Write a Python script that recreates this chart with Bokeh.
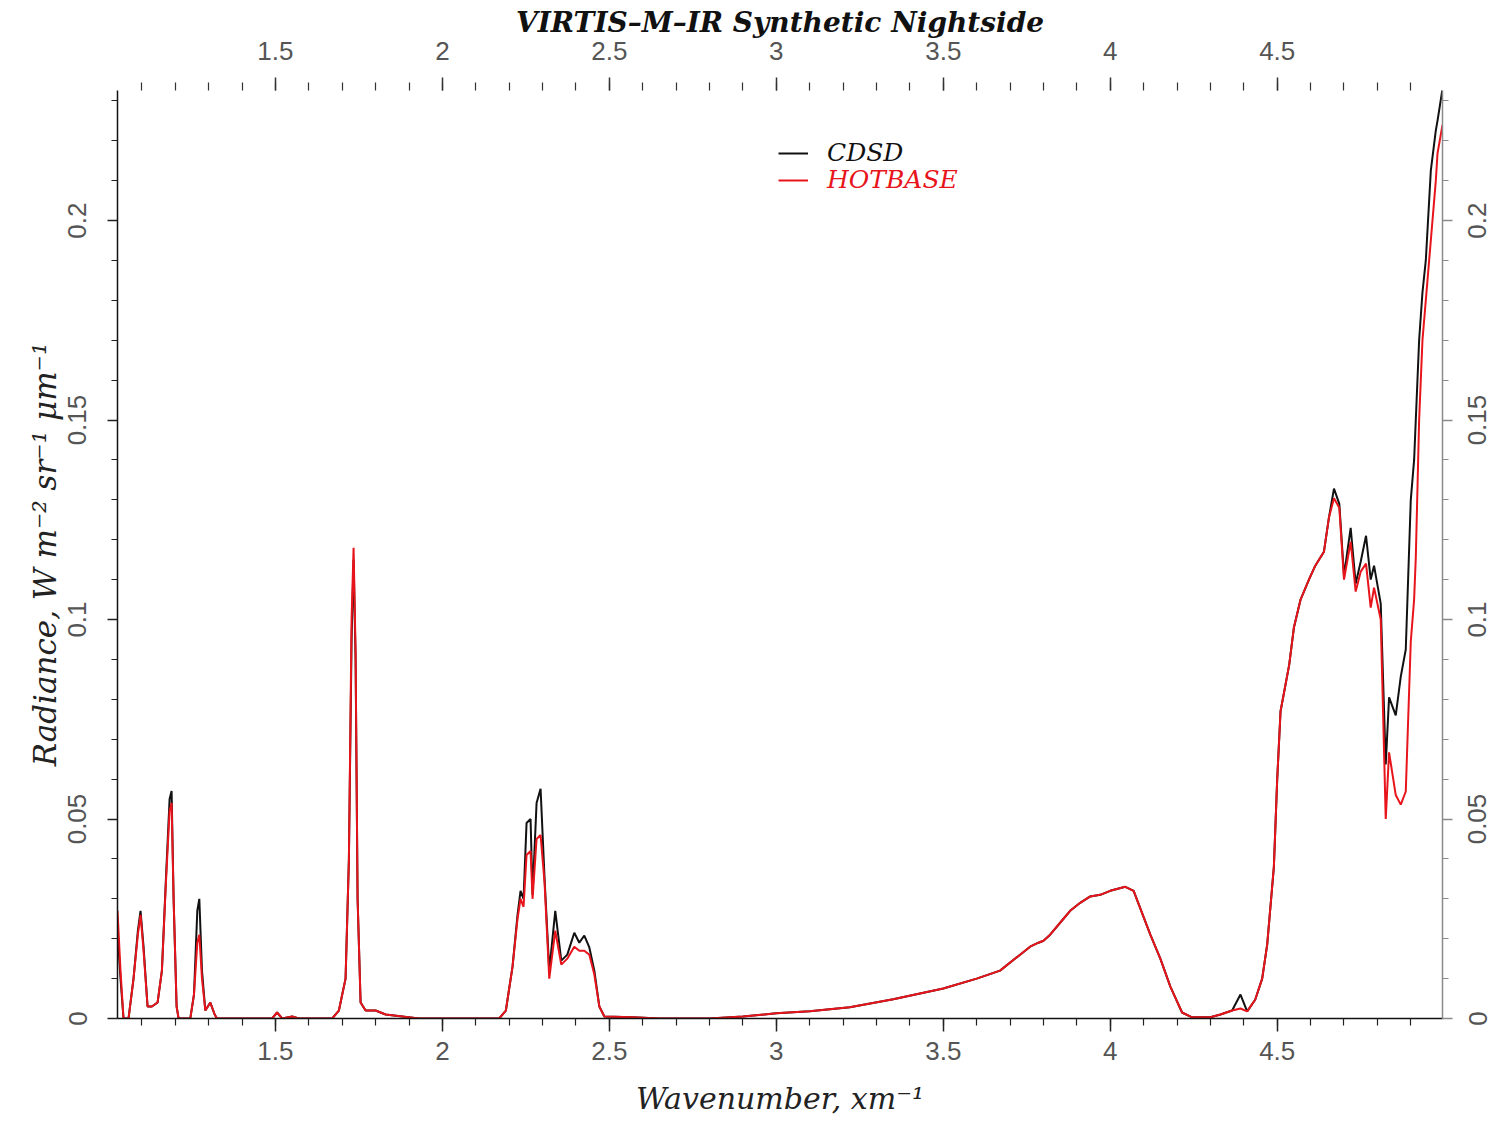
from bokeh.plotting import figure
from bokeh.layouts import row
from bokeh.models import Range1d, LinearAxis, FixedTicker, Legend, LegendItem
from bokeh.embed import file_html
from bokeh.resources import INLINE

# ---------------- data ----------------
wavelength = [1.027, 1.036, 1.045, 1.06, 1.075, 1.088, 1.096, 1.105, 1.117, 1.13,
              1.147, 1.16, 1.172, 1.183, 1.189, 1.195, 1.204, 1.21, 1.245, 1.256,
              1.266, 1.272, 1.28, 1.29, 1.305, 1.318, 1.325, 1.49, 1.505, 1.52,
              1.55, 1.57, 1.67, 1.69, 1.71, 1.72, 1.728, 1.734, 1.74, 1.746,
              1.755, 1.77, 1.8, 1.83, 1.88, 1.93, 2.17, 2.19, 2.21, 2.225,
              2.234, 2.243, 2.252, 2.264, 2.27, 2.282, 2.294, 2.306, 2.32, 2.338,
              2.356, 2.374, 2.395, 2.41, 2.425, 2.44, 2.455, 2.47, 2.485, 2.57,
              2.65, 2.8, 2.9, 3.0, 3.1, 3.22, 3.35, 3.5, 3.6, 3.67,
              3.73, 3.76, 3.785, 3.8, 3.82, 3.86, 3.88, 3.91, 3.94, 3.97,
              4.0, 4.045, 4.07, 4.12, 4.15, 4.18, 4.215, 4.245, 4.3, 4.33,
              4.365, 4.39, 4.41, 4.434, 4.455, 4.47, 4.49, 4.5, 4.51, 4.536,
              4.55, 4.57, 4.595, 4.614, 4.64, 4.655, 4.67, 4.686, 4.70, 4.72,
              4.735, 4.75, 4.766, 4.78, 4.79, 4.81, 4.825, 4.835, 4.855, 4.87,
              4.885, 4.9, 4.91, 4.915, 4.925, 4.935, 4.945, 4.96, 4.975, 4.98,
              4.995]

cdsd = [0.022, 0.010, 0.0, 0.0, 0.010, 0.022, 0.027, 0.018, 0.003, 0.003,
        0.004, 0.012, 0.035, 0.055, 0.057, 0.030, 0.003, 0.0, 0.0, 0.006,
        0.027, 0.030, 0.012, 0.002, 0.004, 0.001, 0.0, 0.0, 0.0015, 0.0,
        0.0005, 0.0, 0.0, 0.002, 0.010, 0.040, 0.095, 0.115, 0.090, 0.030,
        0.004, 0.002, 0.002, 0.001, 0.0005, 0.0, 0.0, 0.002, 0.013, 0.026,
        0.032, 0.030, 0.049, 0.050, 0.031, 0.054, 0.0576, 0.035, 0.012, 0.027,
        0.0145, 0.016, 0.0215, 0.019, 0.0208, 0.0178, 0.012, 0.003, 0.0005, 0.0003,
        0.0, 0.0, 0.0005, 0.0013, 0.0018, 0.0028, 0.0048, 0.0075, 0.0100, 0.0120,
        0.0160, 0.0180, 0.0190, 0.0195, 0.0210, 0.0250, 0.0270, 0.0290, 0.0306, 0.0310,
        0.0320, 0.0330, 0.0320, 0.0210, 0.0150, 0.0080, 0.0015, 0.0003, 0.0003, 0.0010,
        0.0020, 0.0060, 0.0018, 0.0047, 0.0100, 0.0185, 0.0380, 0.0600, 0.0770, 0.0887,
        0.0980, 0.1050, 0.1100, 0.1135, 0.1170, 0.1256, 0.1328, 0.1290, 0.1110, 0.1230,
        0.1090, 0.1145, 0.1210, 0.1100, 0.1135, 0.1040, 0.0637, 0.0805, 0.0760, 0.0857,
        0.0925, 0.1300, 0.1400, 0.1500, 0.1700, 0.1820, 0.1900, 0.2125, 0.2226, 0.2250,
        0.2330]

hotbase = [0.027, 0.012, 0.0, 0.0, 0.010, 0.021, 0.026, 0.017, 0.003, 0.003,
           0.004, 0.012, 0.034, 0.052, 0.054, 0.030, 0.003, 0.0, 0.0, 0.006,
           0.019, 0.021, 0.010, 0.002, 0.004, 0.001, 0.0, 0.0, 0.0015, 0.0,
           0.0005, 0.0, 0.0, 0.002, 0.010, 0.040, 0.100, 0.118, 0.092, 0.030,
           0.004, 0.002, 0.002, 0.001, 0.0005, 0.0, 0.0, 0.002, 0.013, 0.025,
           0.030, 0.028, 0.041, 0.042, 0.030, 0.045, 0.046, 0.034, 0.010, 0.022,
           0.0135, 0.015, 0.018, 0.017, 0.017, 0.016, 0.011, 0.003, 0.0005, 0.0003,
           0.0, 0.0, 0.0005, 0.0013, 0.0018, 0.0028, 0.0048, 0.0075, 0.0100, 0.0120,
           0.0160, 0.0180, 0.0190, 0.0195, 0.0210, 0.0250, 0.0270, 0.0290, 0.0306, 0.0310,
           0.0320, 0.0330, 0.0320, 0.0210, 0.0150, 0.0080, 0.0015, 0.0003, 0.0003, 0.0010,
           0.0020, 0.0025, 0.0018, 0.0047, 0.0100, 0.0185, 0.0380, 0.0600, 0.0770, 0.0887,
           0.0980, 0.1050, 0.1100, 0.1135, 0.1170, 0.1256, 0.1304, 0.1280, 0.1100, 0.1195,
           0.1070, 0.1120, 0.1140, 0.1030, 0.1080, 0.1000, 0.0500, 0.0667, 0.0560, 0.0536,
           0.0569, 0.0945, 0.1050, 0.1155, 0.1500, 0.1700, 0.1800, 0.1950, 0.2100, 0.2168,
           0.2240]

assert len(wavelength) == len(cdsd) == len(hotbase)

x_ticks = [1.5, 2.0, 2.5, 3.0, 3.5, 4.0, 4.5]
x_tick_labels = ["1.5", "2", "2.5", "3", "3.5", "4", "4.5"]
y_ticks = [0.0, 0.05, 0.1, 0.15, 0.2]
y_tick_labels = ["0", "0.05", "0.1", "0.15", "0.2"]
x_minor = [round(1.1 + 0.1 * i, 2) for i in range(39)]
y_minor = [round(0.01 * i, 2) for i in range(24)]

series_names = ["CDSD", "HOTBASE"]
series_colors = ["#111111", "#e8141b"]

title_text = "VIRTIS\u2013M\u2013IR Synthetic Nightside"
x_label = "Wavenumber, xm\u207b\u00b9"
y_label = "Radiance, W m\u207b\u00b2 sr\u207b\u00b9 \u03bcm\u207b\u00b9"

X_START, X_END = 1.027, 4.995
Y_START, Y_END = 0.0, 0.2326

# ---------------- figure ----------------
SERIF = "DejaVu Serif"
SANS = "Liberation Sans"
TICK_COLOR = "#555555"

y_range = Range1d(Y_START, Y_END)

p = figure(width=1456, height=1127, output_backend="svg", toolbar_location=None,
           x_range=Range1d(X_START, X_END), y_range=y_range,
           min_border_left=117, min_border_right=14, min_border_top=90,
           min_border_bottom=109, title=title_text)
p.outline_line_color = None
p.background_fill_color = "white"
p.border_fill_color = "white"
p.xgrid.visible = False
p.ygrid.visible = False

p.title.text_font = SERIF
p.title.text_font_style = "bold italic"
p.title.text_font_size = "28px"
p.title.text_color = "#111111"
p.title.align = "center"
p.title.standoff = 0

x_over = dict(zip(x_ticks, x_tick_labels))
y_over = dict(zip(y_ticks, y_tick_labels))


def style_axis(ax, over, major_out, minor_out, line_color, tick_color):
    ax.major_label_overrides = over
    ax.major_label_text_font = SANS
    ax.major_label_text_font_size = "26px"
    ax.major_label_text_color = TICK_COLOR
    ax.major_tick_in = 0
    ax.major_tick_out = major_out
    ax.minor_tick_in = 0
    ax.minor_tick_out = minor_out
    ax.axis_line_color = line_color
    ax.axis_line_width = 1.5
    ax.major_tick_line_color = tick_color
    ax.minor_tick_line_color = tick_color
    ax.major_tick_line_width = 1.5
    ax.minor_tick_line_width = 1.2


xb = p.xaxis[0]
xb.ticker = FixedTicker(ticks=x_ticks, minor_ticks=x_minor)
style_axis(xb, x_over, 13, 7, "#111111", "#222222")
xb.major_label_standoff = 10
xb.axis_label = x_label
xb.axis_label_text_font = SERIF
xb.axis_label_text_font_style = "italic"
xb.axis_label_text_font_size = "30px"
xb.axis_label_text_color = "#222222"
xb.axis_label_standoff = 18

yl = p.yaxis[0]
yl.ticker = FixedTicker(ticks=y_ticks, minor_ticks=y_minor)
style_axis(yl, y_over, 10, 6, "#111111", "#222222")
yl.major_label_orientation = "vertical"
yl.major_label_standoff = 21
yl.axis_label = y_label
yl.axis_label_text_font = SERIF
yl.axis_label_text_font_style = "italic"
yl.axis_label_text_font_size = "31px"
yl.axis_label_text_color = "#222222"
yl.axis_label_standoff = 3

xt = LinearAxis(ticker=FixedTicker(ticks=x_ticks, minor_ticks=x_minor))
style_axis(xt, x_over, 13, 8, None, "#333333")
xt.major_label_standoff = 18
p.add_layout(xt, "above")

# right axis of the plot: gray line and ticks only
yr = LinearAxis(ticker=FixedTicker(ticks=y_ticks, minor_ticks=y_minor))
style_axis(yr, {t: "" for t in y_ticks}, 10, 6, "#8a8a8a", "#8a8a8a")
yr.major_label_standoff = 0
p.add_layout(yr, "right")

# ---------------- curves ----------------
r_cdsd = p.line(wavelength, cdsd, line_color=series_colors[0], line_width=2)
r_hot = p.line(wavelength, hotbase, line_color=series_colors[1], line_width=2)

# two legends so each label can carry its own colour
for i, (rend, loc) in enumerate([(r_cdsd, (661, 851)), (r_hot, (661, 824))]):
    lg = Legend(items=[LegendItem(label=series_names[i], renderers=[rend])],
                location=loc, padding=0, margin=0, spacing=0,
                glyph_width=30, glyph_height=26, label_height=26,
                label_standoff=19, background_fill_alpha=0,
                border_line_color=None,
                label_text_font=SERIF, label_text_font_style="italic",
                label_text_font_size="25px", label_text_color=series_colors[i])
    p.add_layout(lg, "center")

# narrow companion figure sharing the y range: carries the right-hand tick
# labels, which read bottom-to-top like the left ones
p2 = figure(width=50, height=1127, output_backend="svg", toolbar_location=None,
            x_range=Range1d(0, 1), y_range=y_range, x_axis_location=None,
            min_border_left=49, min_border_right=0, min_border_top=90,
            min_border_bottom=109)
p2.outline_line_color = None
p2.background_fill_color = "white"
p2.border_fill_color = "white"
p2.xgrid.visible = False
p2.ygrid.visible = False
ya = p2.yaxis[0]
ya.ticker = FixedTicker(ticks=y_ticks, minor_ticks=[])
style_axis(ya, y_over, 0, 0, None, None)
ya.major_label_orientation = "vertical"
ya.major_label_standoff = 19

layout = row(p, p2, spacing=0)
open("out.html", "w").write(file_html(layout, INLINE))
